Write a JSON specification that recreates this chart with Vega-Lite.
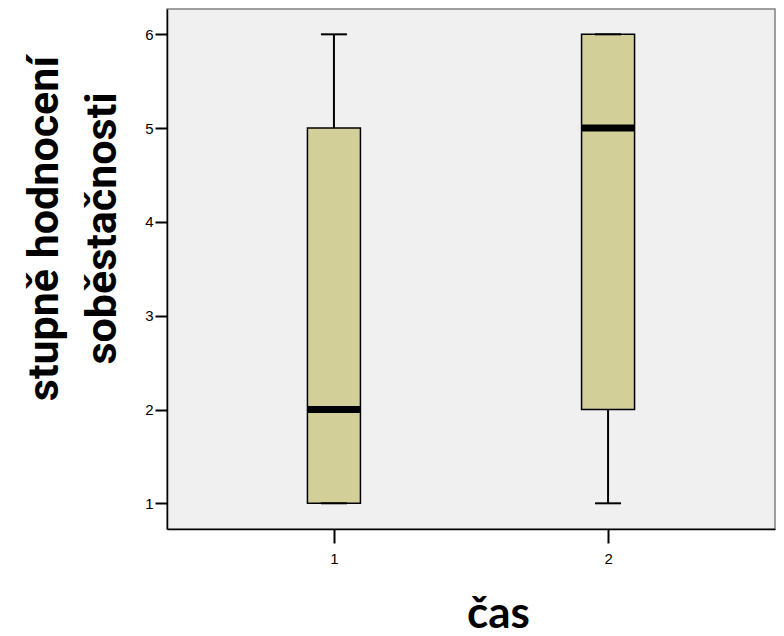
{
  "$schema": "https://vega.github.io/schema/vega-lite/v6.json",
  "autosize": {"type": "none"},
  "padding": {"left": 167, "top": 9, "right": 9, "bottom": 107},
  "width": 608,
  "height": 520,
  "background": "white",
  "config": {
    "view": {"fill": "#f0f0f0", "stroke": "#808080", "strokeWidth": 1.5},
    "axis": {"labelFont": "Liberation Sans", "labelColor": "black", "domainColor": "black", "tickColor": "black", "grid": false}
  },
  "data": {
    "values": [
      {"cas": "1", "min": 1, "q1": 1, "median": 2, "q3": 5, "max": 6},
      {"cas": "2", "min": 1, "q1": 2, "median": 5, "q3": 6, "max": 6}
    ]
  },
  "encoding": {
    "x": {
      "field": "cas", "type": "ordinal",
      "scale": {"type": "point", "padding": 0.609},
      "axis": {
        "title": "čas", "labelAngle": 0, "labelFontSize": 15, "labelPadding": 8,
        "tickSize": 14, "tickWidth": 2, "domainWidth": 1.5,
        "titleFont": "Lato", "titleFontWeight": "bold", "titleFontSize": 44, "titleColor": "black",
        "titleX": 331, "titleY": 98, "titleBaseline": "alphabetic", "titleAlign": "center"
      }
    }
  },
  "layer": [
    {
      "mark": {"type": "rule", "color": "black", "strokeWidth": 2},
      "encoding": {
        "y": {
          "field": "min", "type": "quantitative",
          "scale": {"domain": [0.726, 6.27], "nice": false, "zero": false},
          "axis": {
            "values": [1, 2, 3, 4, 5, 6], "format": "d", "labelFontSize": 15, "labelPadding": 2,
            "tickSize": 12, "tickWidth": 2, "domainWidth": 1.5,
            "title": ["stupně hodnocení", "soběstačnosti"],
            "titleFont": "Roboto", "titleFontWeight": "bold", "titleFontSize": 43, "titleColor": "black",
            "titleAngle": 270, "titleAlign": "center", "titleBaseline": "alphabetic",
            "titleLineHeight": 58, "titleX": -110, "titleY": 219
          }
        },
        "y2": {"field": "max"}
      }
    },
    {
      "mark": {"type": "bar", "size": 53, "fill": "#d3cf98", "stroke": "black", "strokeWidth": 1.5},
      "encoding": {
        "y": {"field": "q1", "type": "quantitative"},
        "y2": {"field": "q3"}
      }
    },
    {
      "mark": {"type": "tick", "size": 53, "thickness": 7, "color": "black", "opacity": 1},
      "encoding": {"y": {"field": "median", "type": "quantitative"}}
    },
    {
      "mark": {"type": "tick", "size": 26, "thickness": 2, "color": "black", "opacity": 1},
      "encoding": {"y": {"field": "min", "type": "quantitative"}}
    },
    {
      "mark": {"type": "tick", "size": 26, "thickness": 2, "color": "black", "opacity": 1},
      "encoding": {"y": {"field": "max", "type": "quantitative"}}
    }
  ]
}
